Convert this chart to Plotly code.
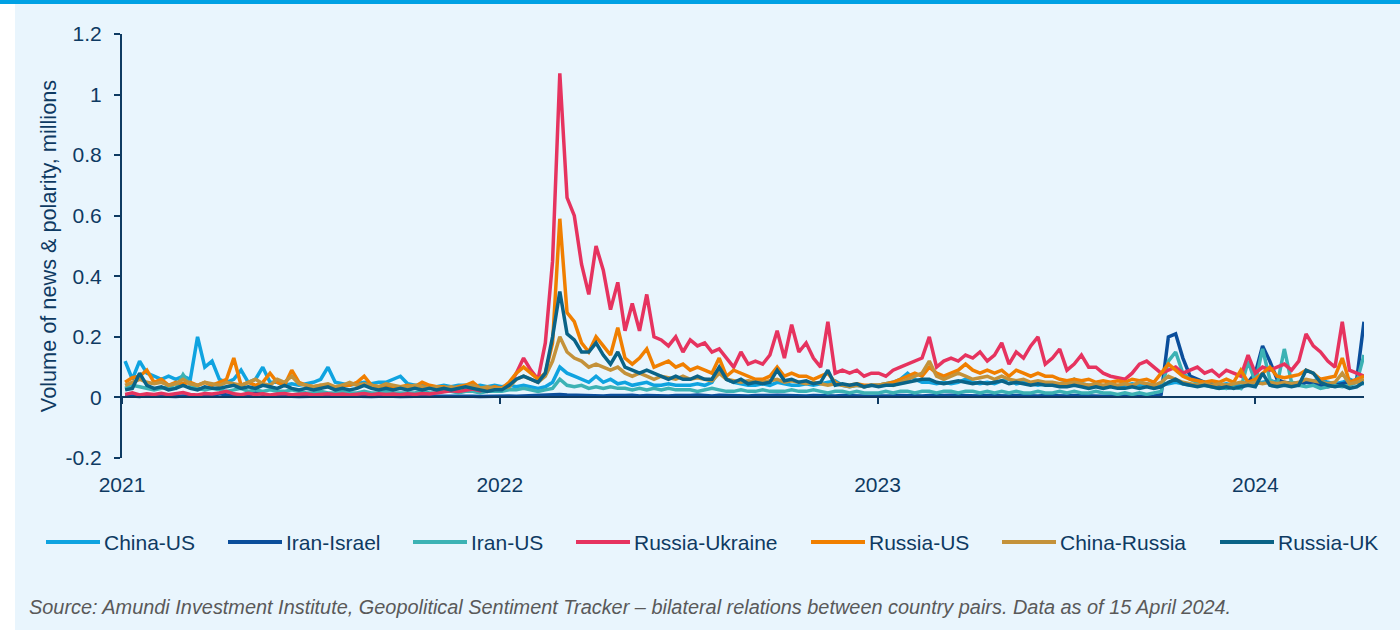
import pandas as pd
import plotly.graph_objects as go

# Weekly observations, 4 Jan 2021 to 15 Apr 2024 (millions)
dates = pd.date_range(end="2024-04-15", periods=172, freq="7D")

china_us = [
    0.120, 0.060, 0.120, 0.080, 0.070, 0.060, 0.070, 0.060, 0.070, 0.060, 0.200, 0.100, 0.120,
    0.060, 0.050, 0.060, 0.090, 0.050, 0.060, 0.100, 0.050, 0.050, 0.040, 0.045, 0.040, 0.045,
    0.050, 0.060, 0.100, 0.050, 0.045, 0.040, 0.045, 0.050, 0.045, 0.050, 0.050, 0.060, 0.070,
    0.045, 0.040, 0.040, 0.035, 0.035, 0.040, 0.035, 0.040, 0.040, 0.035, 0.040, 0.035, 0.040,
    0.035, 0.040, 0.035, 0.040, 0.035, 0.030, 0.035, 0.050, 0.100, 0.080, 0.070, 0.060, 0.050,
    0.070, 0.050, 0.060, 0.045, 0.050, 0.040, 0.045, 0.050, 0.040, 0.040, 0.045, 0.040, 0.040,
    0.040, 0.045, 0.040, 0.050, 0.090, 0.060, 0.050, 0.045, 0.040, 0.040, 0.045, 0.040, 0.050,
    0.045, 0.040, 0.040, 0.045, 0.040, 0.045, 0.050, 0.055, 0.040, 0.035, 0.040, 0.035, 0.040,
    0.040, 0.045, 0.050, 0.060, 0.080, 0.060, 0.050, 0.050, 0.045, 0.050, 0.045, 0.050, 0.060,
    0.050, 0.045, 0.050, 0.045, 0.055, 0.060, 0.045, 0.050, 0.045, 0.040, 0.045, 0.040, 0.045,
    0.050, 0.060, 0.045, 0.040, 0.040, 0.035, 0.040, 0.035, 0.040, 0.045, 0.040, 0.045, 0.040,
    0.040, 0.045, 0.050, 0.045, 0.040, 0.045, 0.050, 0.045, 0.040, 0.045, 0.040, 0.045, 0.050,
    0.045, 0.050, 0.055, 0.050, 0.045, 0.050, 0.045, 0.050, 0.055, 0.060, 0.050, 0.045, 0.050, 0.060, 0.050, 0.045,
]

iran_israel = [
    0.004, 0.005, 0.003, 0.006, 0.004, 0.005, 0.004, 0.003, 0.005, 0.004, 0.006, 0.004, 0.005,
    0.012, 0.008, 0.005, 0.004, 0.006, 0.015, 0.009, 0.005, 0.004, 0.005, 0.004, 0.003, 0.004,
    0.004, 0.005, 0.004, 0.003, 0.004, 0.005, 0.004, 0.004, 0.003, 0.004, 0.005, 0.004, 0.003,
    0.004, 0.003, 0.004, 0.005, 0.004, 0.003, 0.004, 0.004, 0.005, 0.004, 0.003, 0.004, 0.004,
    0.004, 0.005, 0.004, 0.005, 0.004, 0.005, 0.006, 0.008, 0.010, 0.008, 0.007, 0.006, 0.006,
    0.006, 0.005, 0.006, 0.005, 0.006, 0.007, 0.005, 0.006, 0.005, 0.006, 0.005, 0.006, 0.005,
    0.006, 0.008, 0.006, 0.005, 0.007, 0.006, 0.005, 0.006, 0.005, 0.006, 0.005, 0.006, 0.007,
    0.006, 0.005, 0.006, 0.005, 0.006, 0.005, 0.006, 0.005, 0.006, 0.005, 0.004, 0.005, 0.004,
    0.005, 0.004, 0.005, 0.006, 0.005, 0.006, 0.005, 0.006, 0.005, 0.006, 0.007, 0.006, 0.005,
    0.006, 0.005, 0.006, 0.005, 0.006, 0.005, 0.006, 0.005, 0.006, 0.005, 0.006, 0.005, 0.006,
    0.005, 0.006, 0.005, 0.006, 0.005, 0.004, 0.005, 0.006, 0.005, 0.004, 0.005, 0.004, 0.005,
    0.010, 0.200, 0.210, 0.130, 0.070, 0.060, 0.050, 0.040, 0.035, 0.030, 0.035, 0.030, 0.050,
    0.080, 0.170, 0.120, 0.060, 0.050, 0.045, 0.040, 0.050, 0.045, 0.040, 0.035, 0.040, 0.045, 0.050, 0.060, 0.250,
]

iran_us = [
    0.030, 0.040, 0.035, 0.030, 0.025, 0.030, 0.035, 0.030, 0.075, 0.040, 0.030, 0.025, 0.030,
    0.025, 0.020, 0.025, 0.030, 0.020, 0.025, 0.020, 0.025, 0.020, 0.020, 0.025, 0.020, 0.015,
    0.015, 0.020, 0.015, 0.015, 0.020, 0.015, 0.015, 0.020, 0.015, 0.015, 0.020, 0.015, 0.015,
    0.015, 0.015, 0.020, 0.015, 0.015, 0.020, 0.020, 0.015, 0.020, 0.020, 0.015, 0.020, 0.020,
    0.020, 0.025, 0.025, 0.030, 0.025, 0.020, 0.025, 0.030, 0.060, 0.040, 0.035, 0.040, 0.030,
    0.035, 0.030, 0.035, 0.030, 0.030, 0.025, 0.030, 0.025, 0.030, 0.025, 0.030, 0.025, 0.025,
    0.025, 0.020, 0.025, 0.030, 0.025, 0.020, 0.020, 0.025, 0.020, 0.020, 0.025, 0.020, 0.020,
    0.020, 0.025, 0.020, 0.020, 0.025, 0.020, 0.015, 0.020, 0.020, 0.015, 0.020, 0.015, 0.015,
    0.015, 0.020, 0.015, 0.020, 0.020, 0.015, 0.020, 0.020, 0.015, 0.020, 0.020, 0.015, 0.020,
    0.020, 0.015, 0.020, 0.015, 0.020, 0.015, 0.020, 0.015, 0.015, 0.020, 0.015, 0.015, 0.020,
    0.015, 0.020, 0.015, 0.015, 0.020, 0.015, 0.015, 0.010, 0.015, 0.010, 0.015, 0.010, 0.015,
    0.020, 0.120, 0.150, 0.080, 0.060, 0.050, 0.040, 0.035, 0.030, 0.030, 0.035, 0.030, 0.120,
    0.050, 0.160, 0.060, 0.040, 0.160, 0.050, 0.040, 0.035, 0.040, 0.030, 0.035, 0.040, 0.035, 0.040, 0.050, 0.140,
]

russia_ukraine = [
    0.010, 0.015, 0.008, 0.012, 0.010, 0.014, 0.009, 0.012, 0.016, 0.010, 0.008, 0.013, 0.011,
    0.015, 0.020, 0.012, 0.009, 0.014, 0.010, 0.012, 0.008, 0.011, 0.013, 0.009, 0.010, 0.012,
    0.008, 0.010, 0.012, 0.009, 0.011, 0.008, 0.010, 0.013, 0.009, 0.012, 0.010, 0.011, 0.009,
    0.012, 0.010, 0.013, 0.011, 0.015, 0.018, 0.022, 0.020, 0.025, 0.028, 0.022, 0.026, 0.030,
    0.030, 0.040, 0.080, 0.130, 0.090, 0.060, 0.180, 0.450, 1.070, 0.660, 0.600, 0.440, 0.340,
    0.500, 0.420, 0.290, 0.380, 0.220, 0.310, 0.220, 0.340, 0.200, 0.190, 0.170, 0.200, 0.150,
    0.190, 0.170, 0.180, 0.150, 0.160, 0.130, 0.100, 0.150, 0.110, 0.120, 0.110, 0.140, 0.220,
    0.130, 0.240, 0.150, 0.180, 0.130, 0.100, 0.250, 0.080, 0.090, 0.080, 0.090, 0.070, 0.080,
    0.080, 0.070, 0.090, 0.100, 0.110, 0.120, 0.130, 0.200, 0.100, 0.120, 0.130, 0.120, 0.140,
    0.130, 0.150, 0.120, 0.140, 0.180, 0.110, 0.150, 0.130, 0.170, 0.200, 0.110, 0.130, 0.160,
    0.090, 0.110, 0.140, 0.100, 0.100, 0.080, 0.070, 0.065, 0.060, 0.080, 0.110, 0.120, 0.100,
    0.080, 0.090, 0.100, 0.080, 0.090, 0.100, 0.080, 0.090, 0.070, 0.090, 0.080, 0.070, 0.140,
    0.080, 0.100, 0.090, 0.100, 0.110, 0.090, 0.120, 0.210, 0.170, 0.150, 0.120, 0.100, 0.250, 0.090, 0.080, 0.070,
]

russia_us = [
    0.050, 0.065, 0.070, 0.090, 0.050, 0.060, 0.040, 0.050, 0.045, 0.050, 0.040, 0.050, 0.040,
    0.050, 0.060, 0.130, 0.040, 0.050, 0.040, 0.050, 0.080, 0.050, 0.040, 0.090, 0.050, 0.040,
    0.035, 0.040, 0.035, 0.030, 0.040, 0.040, 0.050, 0.070, 0.040, 0.035, 0.040, 0.035, 0.035,
    0.040, 0.035, 0.050, 0.040, 0.035, 0.035, 0.030, 0.035, 0.040, 0.050, 0.030, 0.030, 0.035,
    0.030, 0.050, 0.080, 0.100, 0.080, 0.060, 0.080, 0.180, 0.590, 0.280, 0.250, 0.180, 0.150,
    0.200, 0.170, 0.140, 0.230, 0.130, 0.110, 0.130, 0.160, 0.100, 0.110, 0.120, 0.100, 0.110,
    0.090, 0.100, 0.090, 0.080, 0.130, 0.070, 0.090, 0.080, 0.070, 0.060, 0.060, 0.070, 0.100,
    0.070, 0.080, 0.070, 0.070, 0.060, 0.070, 0.080, 0.050, 0.040, 0.040, 0.045, 0.040, 0.040,
    0.040, 0.045, 0.050, 0.060, 0.070, 0.080, 0.070, 0.100, 0.080, 0.070, 0.080, 0.090, 0.110,
    0.090, 0.080, 0.090, 0.080, 0.090, 0.070, 0.090, 0.080, 0.070, 0.080, 0.070, 0.070, 0.060,
    0.055, 0.060, 0.055, 0.060, 0.050, 0.055, 0.050, 0.055, 0.050, 0.060, 0.055, 0.060, 0.050,
    0.080, 0.110, 0.090, 0.070, 0.060, 0.055, 0.050, 0.055, 0.050, 0.060, 0.050, 0.090, 0.050,
    0.060, 0.080, 0.100, 0.070, 0.065, 0.070, 0.075, 0.090, 0.080, 0.060, 0.065, 0.070, 0.130, 0.050, 0.060, 0.070,
]

china_russia = [
    0.040, 0.050, 0.060, 0.050, 0.045, 0.050, 0.040, 0.045, 0.060, 0.045, 0.040, 0.050, 0.045,
    0.040, 0.050, 0.045, 0.040, 0.050, 0.060, 0.045, 0.040, 0.060, 0.050, 0.070, 0.045, 0.040,
    0.035, 0.040, 0.045, 0.035, 0.040, 0.050, 0.040, 0.045, 0.040, 0.035, 0.045, 0.040, 0.035,
    0.035, 0.040, 0.035, 0.030, 0.035, 0.030, 0.035, 0.030, 0.035, 0.040, 0.030, 0.035, 0.030,
    0.030, 0.035, 0.060, 0.070, 0.060, 0.050, 0.070, 0.120, 0.200, 0.150, 0.130, 0.120, 0.100,
    0.110, 0.100, 0.090, 0.100, 0.080, 0.070, 0.080, 0.070, 0.060, 0.070, 0.065, 0.060, 0.070,
    0.060, 0.065, 0.060, 0.055, 0.080, 0.060, 0.055, 0.050, 0.055, 0.050, 0.050, 0.055, 0.060,
    0.050, 0.055, 0.050, 0.045, 0.050, 0.045, 0.040, 0.045, 0.040, 0.035, 0.040, 0.035, 0.040,
    0.040, 0.045, 0.040, 0.050, 0.060, 0.070, 0.080, 0.120, 0.070, 0.060, 0.070, 0.080, 0.070,
    0.060, 0.065, 0.070, 0.060, 0.070, 0.060, 0.055, 0.060, 0.050, 0.055, 0.050, 0.050, 0.045,
    0.045, 0.050, 0.045, 0.040, 0.045, 0.040, 0.045, 0.040, 0.045, 0.040, 0.050, 0.045, 0.040,
    0.050, 0.070, 0.060, 0.050, 0.045, 0.040, 0.045, 0.040, 0.045, 0.040, 0.045, 0.050, 0.045,
    0.050, 0.045, 0.050, 0.045, 0.050, 0.045, 0.050, 0.060, 0.055, 0.050, 0.045, 0.050, 0.080, 0.045, 0.050, 0.060,
]

russia_uk = [
    0.025, 0.030, 0.080, 0.040, 0.030, 0.035, 0.025, 0.030, 0.040, 0.030, 0.025, 0.035, 0.030,
    0.030, 0.035, 0.040, 0.030, 0.035, 0.030, 0.040, 0.035, 0.030, 0.040, 0.030, 0.025, 0.030,
    0.025, 0.030, 0.035, 0.025, 0.030, 0.025, 0.030, 0.040, 0.030, 0.025, 0.030, 0.025, 0.030,
    0.025, 0.030, 0.025, 0.030, 0.025, 0.030, 0.025, 0.030, 0.035, 0.030, 0.025, 0.020, 0.025,
    0.025, 0.040, 0.060, 0.070, 0.060, 0.050, 0.080, 0.200, 0.350, 0.210, 0.190, 0.150, 0.150,
    0.180, 0.140, 0.110, 0.150, 0.100, 0.090, 0.080, 0.090, 0.080, 0.070, 0.060, 0.070, 0.060,
    0.060, 0.070, 0.060, 0.060, 0.100, 0.060, 0.050, 0.060, 0.045, 0.050, 0.045, 0.050, 0.090,
    0.055, 0.060, 0.050, 0.055, 0.045, 0.050, 0.090, 0.040, 0.045, 0.040, 0.045, 0.035, 0.040,
    0.035, 0.040, 0.040, 0.045, 0.050, 0.055, 0.060, 0.060, 0.050, 0.045, 0.050, 0.055, 0.050,
    0.045, 0.050, 0.045, 0.050, 0.055, 0.045, 0.050, 0.045, 0.040, 0.045, 0.040, 0.040, 0.035,
    0.035, 0.040, 0.035, 0.030, 0.035, 0.030, 0.035, 0.030, 0.030, 0.035, 0.030, 0.035, 0.030,
    0.035, 0.050, 0.060, 0.045, 0.040, 0.035, 0.040, 0.035, 0.030, 0.035, 0.030, 0.035, 0.040,
    0.035, 0.080, 0.040, 0.035, 0.040, 0.035, 0.040, 0.090, 0.080, 0.050, 0.040, 0.035, 0.040, 0.030, 0.035, 0.050,
]

series_names = ["China-US", "Iran-Israel", "Iran-US", "Russia-Ukraine",
                "Russia-US", "China-Russia", "Russia-UK"]
series_values = [china_us, iran_israel, iran_us, russia_ukraine,
                 russia_us, china_russia, russia_uk]
series_colors = ["#0fa3e0", "#0b4e9b", "#3cb2b4", "#e6335f",
                 "#f07f00", "#c4923a", "#0a6387"]

year_ticks = ["2021-01-01", "2022-01-01", "2023-01-01", "2024-01-01"]
year_labels = ["2021", "2022", "2023", "2024"]
y_ticks = [-0.2, 0, 0.2, 0.4, 0.6, 0.8, 1.0, 1.2]
y_labels = ["-0.2", "0", "0.2", "0.4", "0.6", "0.8", "1", "1.2"]

W, H = 1400, 630
ML, MR, MT, MB = 122, 36, 34, 172
PW, PH = W - ML - MR, H - MT - MB
NAVY = "#0e3a62"
FONT = "Arial, Liberation Sans, sans-serif"
BG = "#e9f5fd"


def px(x, y):
    """Pixel position on the page -> paper coordinates."""
    return (x - ML) / PW, (H - MB - y) / PH


fig = go.Figure()
for name, vals, col in zip(series_names, series_values, series_colors):
    fig.add_trace(go.Scatter(x=dates, y=vals, name=name, mode="lines",
                             line=dict(color=col, width=3.5), showlegend=False))

# zero axis line with year ticks
fig.add_trace(go.Scatter(x=[dates[0]], y=[None], xaxis="x2", showlegend=False,
                         hoverinfo="skip"))

shapes = []
annotations = []

# page background: white strip on the left, blue band at the top
x0, y0 = px(0, H)
x1, y1 = px(15, 0)
shapes.append(dict(type="rect", xref="paper", yref="paper", x0=x0, x1=x1, y0=y0, y1=y1,
                   fillcolor="white", line=dict(width=0), layer="below"))
x0, y0 = px(0, 4)
x1, y1 = px(W, 0)
shapes.append(dict(type="rect", xref="paper", yref="paper", x0=x0, x1=x1, y0=y0, y1=y1,
                   fillcolor="#00a1e4", line=dict(width=0)))

# legend drawn as long line swatches
legend_x = [46, 228, 413, 576, 811, 1002, 1220]
legend_y = 542
for name, col, lx in zip(series_names, series_colors, legend_x):
    a0, b0 = px(lx, legend_y)
    a1, _ = px(lx + 54, legend_y)
    shapes.append(dict(type="line", xref="paper", yref="paper", x0=a0, x1=a1, y0=b0, y1=b0,
                       line=dict(color=col, width=4)))
    tx, ty = px(lx + 56, legend_y)
    annotations.append(dict(text=name, xref="paper", yref="paper", x=tx, y=ty,
                            xanchor="left", yanchor="middle", showarrow=False,
                            font=dict(family=FONT, size=21, color=NAVY)))

sx, sy = px(27, 607)
annotations.append(dict(
    text="<i>Source: Amundi Investment Institute, Geopolitical Sentiment Tracker \u2013 "
         "bilateral relations between country pairs. Data as of 15 April 2024.</i>",
    xref="paper", yref="paper", x=sx, y=sy, xanchor="left", yanchor="middle",
    showarrow=False, font=dict(family=FONT, size=19.9, color="#595959")))

x_range = ["2021-01-01", "2024-04-15"]

fig.update_layout(
    width=W, height=H,
    margin=dict(l=ML, r=MR, t=MT, b=MB, autoexpand=False),
    paper_bgcolor=BG, plot_bgcolor=BG,
    font=dict(family=FONT, size=21, color=NAVY),
    shapes=shapes, annotations=annotations,
    xaxis=dict(type="date", range=x_range, tickvals=year_ticks, ticktext=year_labels,
               showline=False, showgrid=False, zeroline=False, ticks="",
               tickfont=dict(size=21, color=NAVY), ticklabelstandoff=12),
    xaxis2=dict(type="date", range=x_range, overlaying="x", anchor="free",
                position=0.2 / 1.4, showline=True, linecolor=NAVY, linewidth=2,
                ticks="outside", ticklen=6, tickwidth=2, tickcolor=NAVY,
                tickvals=year_ticks, showticklabels=False, showgrid=False,
                zeroline=False),
    yaxis=dict(range=[-0.2, 1.2], tickvals=y_ticks, ticktext=y_labels,
               showline=True, linecolor=NAVY, linewidth=2, ticks="outside",
               ticklen=6, tickwidth=2, tickcolor=NAVY, showgrid=False, zeroline=False,
               tickfont=dict(size=21, color=NAVY), ticklabelstandoff=8,
               title=dict(text="Volume of news & polarity, millions", standoff=3,
                          font=dict(size=21.7, color=NAVY))),
)

fig.write_html("out.html")
